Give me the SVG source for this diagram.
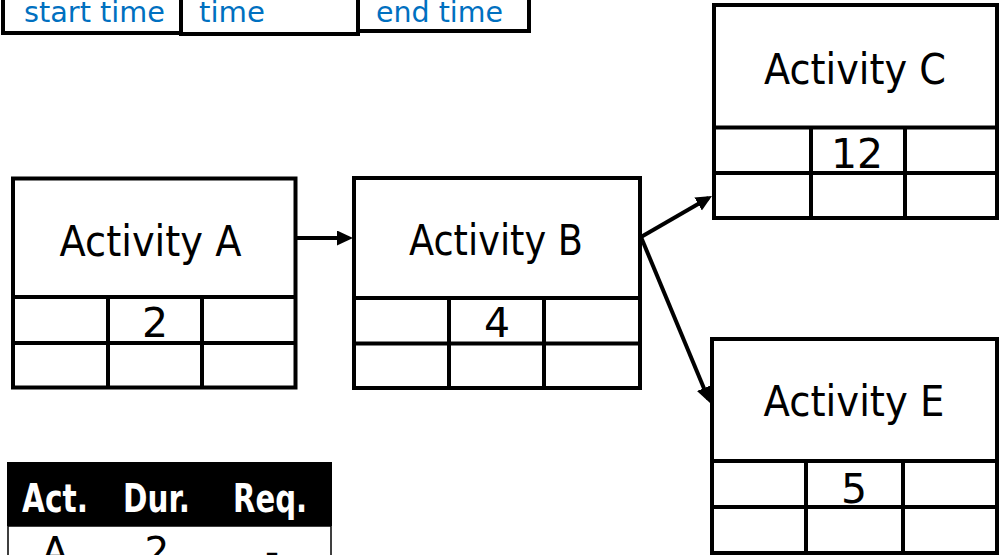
<svg xmlns="http://www.w3.org/2000/svg" width="1000" height="555" viewBox="0 0 1000 555">
<style>
.box{fill:#fff;stroke:#000;stroke-width:4}
.ln{stroke:#000;stroke-width:4;fill:none}
.t{font-family:"DejaVu Sans","Liberation Sans",sans-serif;fill:#000;text-anchor:middle}
.title{font-size:43px}
.num{font-size:41px}
.blue{font-family:"DejaVu Sans","Liberation Sans",sans-serif;fill:#0070C0;font-size:28px;text-anchor:middle}
.hdr{font-family:"DejaVu Sans","Liberation Sans",sans-serif;fill:#fff;font-weight:bold;font-size:39px;text-anchor:middle}
.row{font-family:"DejaVu Sans","Liberation Sans",sans-serif;fill:#000;font-size:39px;text-anchor:middle}
.conn{stroke:#000;stroke-width:4;fill:none;marker-end:url(#ah)}
</style>
<defs>
<marker id="ah" markerUnits="userSpaceOnUse" markerWidth="18" markerHeight="16" refX="12" refY="7.5" orient="auto">
<path d="M0,0 L16,7.5 L0,15 z" fill="#000"/>
</marker>
</defs>
<rect width="1000" height="555" fill="#fff"/>

<g id="legend-top">
<rect class="box" x="3" y="-10" width="178" height="43"/>
<rect class="box" x="181" y="-10" width="177" height="44"/>
<rect class="box" x="358" y="-10" width="171" height="41"/>
<text class="blue" x="94.5" y="22" textLength="141" lengthAdjust="spacingAndGlyphs">start time</text>
<text class="blue" x="232" y="22" textLength="66" lengthAdjust="spacingAndGlyphs">time</text>
<text class="blue" x="439.5" y="22" textLength="127" lengthAdjust="spacingAndGlyphs">end time</text>
</g>

<g id="connectors">
<line class="conn" x1="297" y1="238" x2="349" y2="238"/>
<line class="conn" x1="641" y1="237" x2="708.5" y2="198"/>
<line class="conn" x1="641" y1="237" x2="708.5" y2="399.3"/>
</g>

<g id="node-A">
<rect class="box" x="13" y="178.5" width="282.5" height="209"/>
<line class="ln" x1="13" y1="297" x2="295.5" y2="297"/>
<line class="ln" x1="13" y1="343" x2="295.5" y2="343"/>
<line class="ln" x1="108" y1="297" x2="108" y2="387.5"/>
<line class="ln" x1="202" y1="297" x2="202" y2="387.5"/>
<text class="t title" x="150.5" y="256" textLength="182" lengthAdjust="spacingAndGlyphs">Activity A</text>
<text class="t num" x="155" y="337">2</text>
</g>

<g id="node-B">
<rect class="box" x="354" y="178" width="286" height="210"/>
<line class="ln" x1="354" y1="298" x2="640" y2="298"/>
<line class="ln" x1="354" y1="343.5" x2="640" y2="343.5"/>
<line class="ln" x1="449" y1="298" x2="449" y2="388"/>
<line class="ln" x1="544" y1="298" x2="544" y2="388"/>
<text class="t title" x="496" y="255" textLength="174" lengthAdjust="spacingAndGlyphs">Activity B</text>
<text class="t num" x="497" y="337">4</text>
</g>

<g id="node-C">
<rect class="box" x="714" y="5" width="283" height="213"/>
<line class="ln" x1="714" y1="127.5" x2="997" y2="127.5"/>
<line class="ln" x1="714" y1="173" x2="997" y2="173"/>
<line class="ln" x1="811" y1="127.5" x2="811" y2="218"/>
<line class="ln" x1="905" y1="127.5" x2="905" y2="218"/>
<text class="t title" x="855" y="84" textLength="182" lengthAdjust="spacingAndGlyphs">Activity C</text>
<text class="t num" x="857" y="168">12</text>
</g>

<g id="node-E">
<rect class="box" x="712" y="339" width="285" height="214"/>
<line class="ln" x1="712" y1="461" x2="997" y2="461"/>
<line class="ln" x1="712" y1="507" x2="997" y2="507"/>
<line class="ln" x1="806" y1="461" x2="806" y2="553"/>
<line class="ln" x1="903" y1="461" x2="903" y2="553"/>
<text class="t title" x="854" y="416" textLength="181" lengthAdjust="spacingAndGlyphs">Activity E</text>
<text class="t num" x="854" y="503">5</text>
</g>

<g id="table">
<rect x="8" y="526" width="323" height="40" fill="#fff" stroke="#000" stroke-width="1.5"/>
<rect x="7" y="462" width="325" height="64" fill="#000"/>
<text class="hdr" x="55" y="512" textLength="66" lengthAdjust="spacingAndGlyphs">Act.</text>
<text class="hdr" x="156.5" y="512" textLength="67" lengthAdjust="spacingAndGlyphs">Dur.</text>
<text class="hdr" x="270" y="512" textLength="74" lengthAdjust="spacingAndGlyphs">Req.</text>
<text class="row" x="55" y="565">A</text>
<text class="row" x="157" y="565">2</text>
<text class="row" x="272" y="565">-</text>
</g>
</svg>
